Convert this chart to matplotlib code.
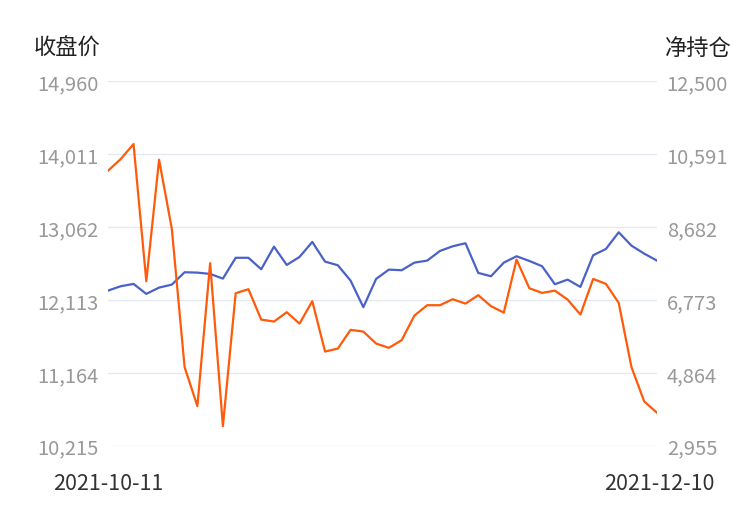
import matplotlib
matplotlib.use('Agg')
import matplotlib.pyplot as plt

plt.rcParams['font.family'] = ['Noto Sans CJK SC', 'DejaVu Sans']

# ── Data ───────────────────────────────────────────────────────────────────
close_price = [12234, 12291, 12321, 12191, 12273, 12312, 12473, 12468, 12451, 12390,
               12661, 12661, 12512, 12806, 12568, 12672, 12867, 12611, 12564, 12364,
               12018, 12386, 12507, 12499, 12598, 12624, 12750, 12811, 12850, 12464,
               12421, 12598, 12681, 12620, 12551, 12317, 12377, 12282, 12694, 12776,
               12993, 12819, 12715, 12624]
net_position = [10154, 10460, 10853, 7262, 10442, 8630, 5013, 3993, 7733, 3470,
                6948, 7053, 6258, 6206, 6451, 6153, 6739, 5421, 5500, 5989,
                5944, 5630, 5518, 5719, 6363, 6634, 6634, 6791, 6676, 6896,
                6608, 6441, 7827, 7079, 6956, 7016, 6781, 6389, 7322, 7192,
                6695, 5013, 4114, 3818]
left_ticks = [10215, 11164, 12113, 13062, 14011, 14960]
right_ticks = [2955, 4864, 6773, 8682, 10591, 12500]
start_label, end_label = '2021-10-11', '2021-12-10'

# ── Plot ───────────────────────────────────────────────────────────────────
fig = plt.figure(figsize=(7.5, 5.1), dpi=100)
ax = fig.add_axes([0.144, 0.124, 0.732, 0.715])
ax2 = ax.twinx()

x = range(len(close_price))
ax.plot(x, close_price, color='#4a62c8', lw=1.6, zorder=3)
ax2.plot(x, net_position, color='#ff5a0a', lw=1.6, zorder=3)

ax.set_xlim(0, len(close_price) - 1)
ax.set_ylim(left_ticks[0], left_ticks[-1])
ax2.set_ylim(right_ticks[0], right_ticks[-1])
ax.set_yticks(left_ticks)
ax.set_yticklabels([f'{v:,}' for v in left_ticks])
ax2.set_yticks(right_ticks)
ax2.set_yticklabels([f'{v:,}' for v in right_ticks])
ax.grid(axis='y', color='#e3e7f0', lw=0.9)
ax.set_xticks([])

for a in (ax, ax2):
    for s in a.spines.values():
        s.set_visible(False)
    a.tick_params(axis='y', length=0, labelsize=14.5, colors='#999999', pad=7)

fig.text(0.045, 0.893, '收盘价', fontsize=16, color='#222222')
fig.text(0.975, 0.893, '净持仓', fontsize=16, color='#222222', ha='right')
fig.text(0.144, 0.04, start_label, fontsize=15.5, color='#333333', ha='center')
fig.text(0.952, 0.04, end_label, fontsize=15.5, color='#333333', ha='right')

plt.savefig('out.png', dpi=100)
